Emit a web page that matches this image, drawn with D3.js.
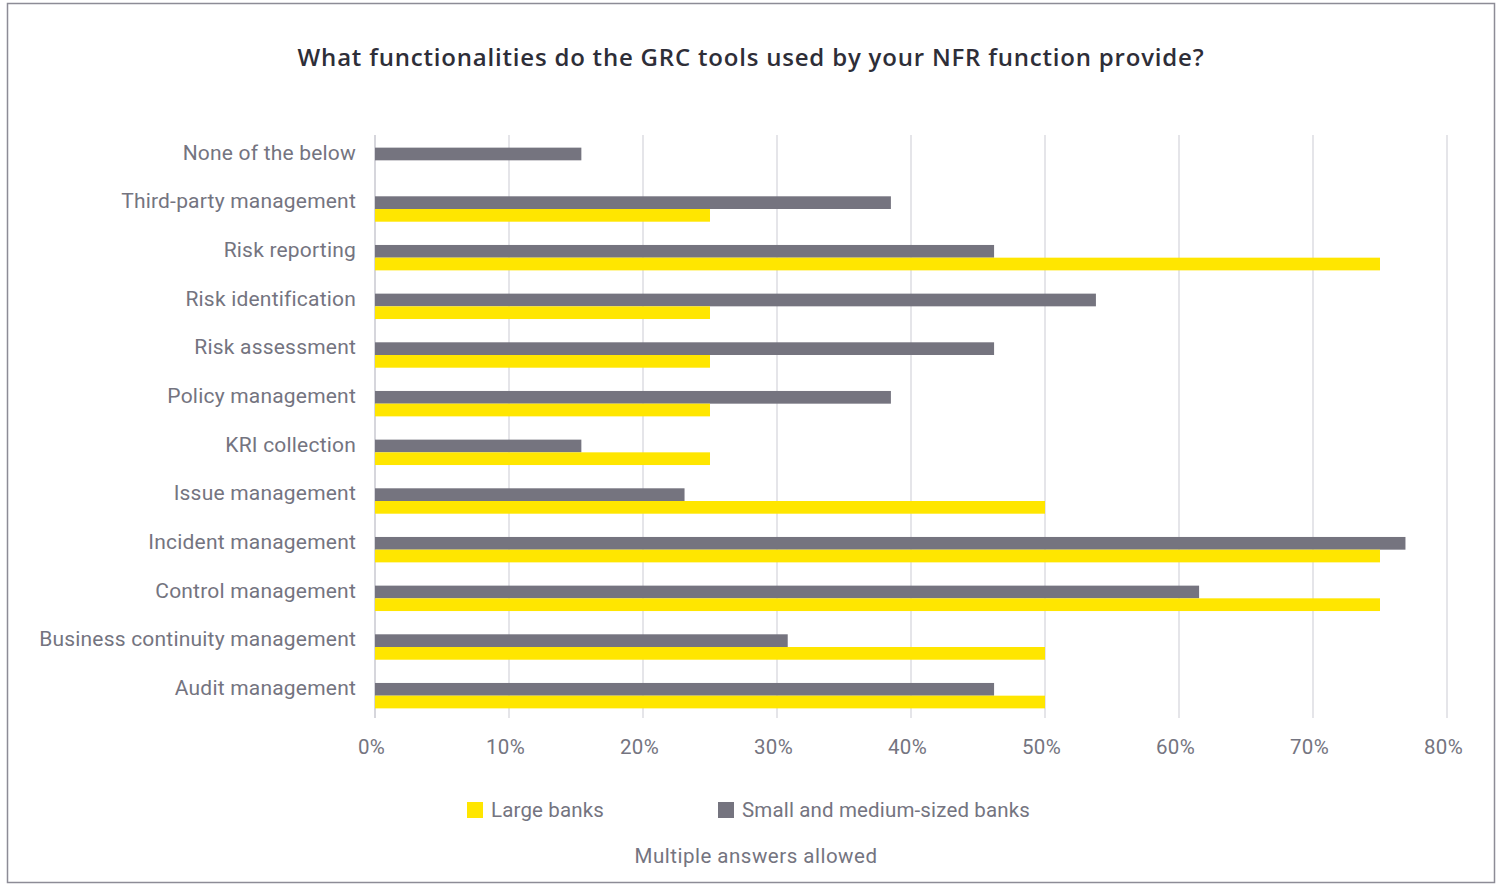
<!DOCTYPE html>
<html>
<head>
<meta charset="utf-8">
<script src="https://cdn.jsdelivr.net/npm/d3@7"></script>
<style>
  html, body { margin: 0; padding: 0; background: #ffffff; }
  svg { display: block; }
</style>
</head>
<body>
<svg id="chart" width="1496" height="884"></svg>
<script>
// Survey answers, share of respondents per bank group (%)
const categories = [
  "None of the below",
  "Third-party management",
  "Risk reporting",
  "Risk identification",
  "Risk assessment",
  "Policy management",
  "KRI collection",
  "Issue management",
  "Incident management",
  "Control management",
  "Business continuity management",
  "Audit management"
];
const smallMediumBanks = [15.4, 38.5, 46.2, 53.8, 46.2, 38.5, 15.4, 23.1, 76.9, 61.5, 30.8, 46.2];
const largeBanks       = [0,    25,   75,   25,   25,   25,   25,   50,   75,   75,   50,   50];
const tickValues = [0, 10, 20, 30, 40, 50, 60, 70, 80];
const seriesNames = ["Large banks", "Small and medium-sized banks"];

const title = "What functionalities do the GRC tools used by your NFR function provide?";
const note = "Multiple answers allowed";

const colors = { large: "#ffe600", small: "#75747f" };
const textGray = "#747480";
const font = "Roboto, 'Liberation Sans', sans-serif";

const svg = d3.select("#chart");

// frame
svg.append("rect")
  .attr("x", 7.5).attr("y", 3.5)
  .attr("width", 1487).attr("height", 879)
  .attr("fill", "#fff")
  .attr("stroke", "#8d8c96").attr("stroke-width", 1.5);

// title
svg.append("text")
  .attr("x", 751).attr("y", 66)
  .attr("text-anchor", "middle")
  .attr("font-family", "'Open Sans', Roboto, sans-serif")
  .attr("font-size", 24)
  .attr("font-weight", 600)
  .attr("letter-spacing", 0.8)
  .attr("fill", "#2e2e38")
  .text(title);

const x = d3.scaleLinear().domain([0, 80]).range([375, 1447]);
const y = d3.scaleBand().domain(categories).range([136, 720]);
const barH = 12.7;

// vertical grid lines
svg.append("g")
  .selectAll("line")
  .data(tickValues)
  .join("line")
  .attr("x1", d => x(d)).attr("x2", d => x(d))
  .attr("y1", 135).attr("y2", 718)
  .attr("stroke", d => d === 0 ? "#c9c8d0" : "#dddde2")
  .attr("stroke-width", 1.5);

// x axis labels
const xAxis = d3.axisBottom(x)
  .tickValues(tickValues)
  .tickFormat(d => d + "%")
  .tickSize(0)
  .tickPadding(0);
const gx = svg.append("g").attr("transform", "translate(-4,739)").call(xAxis);
gx.select(".domain").remove();
gx.selectAll("text")
  .attr("font-family", font)
  .attr("font-size", 20.5)
  .attr("letter-spacing", 0.3)
  .attr("fill", textGray)
  .attr("dy", "0.71em")
  .attr("y", 0);

// bars: small/medium on top, large below
const rows = categories.map((c, i) => ({ c, small: smallMediumBanks[i], large: largeBanks[i] }));
const gBars = svg.append("g");
gBars.selectAll("rect.small")
  .data(rows)
  .join("rect")
  .attr("class", "small")
  .attr("x", x(0))
  .attr("y", d => y(d.c) + y.bandwidth() / 2 - barH)
  .attr("width", d => x(d.small) - x(0))
  .attr("height", barH)
  .attr("fill", colors.small);
gBars.selectAll("rect.large")
  .data(rows)
  .join("rect")
  .attr("class", "large")
  .attr("x", x(0))
  .attr("y", d => y(d.c) + y.bandwidth() / 2)
  .attr("width", d => x(d.large) - x(0))
  .attr("height", barH)
  .attr("fill", colors.large);

// category labels
svg.append("g")
  .selectAll("text")
  .data(categories)
  .join("text")
  .attr("x", 356)
  .attr("y", d => y(d) + y.bandwidth() / 2 - 8)
  .attr("dy", "0.35em")
  .attr("text-anchor", "end")
  .attr("font-family", font)
  .attr("font-size", 21)
  .attr("letter-spacing", 0.2)
  .attr("fill", textGray)
  .text(d => d);

// legend
const legendItems = [
  { name: seriesNames[0], color: colors.large, x: 467 },
  { name: seriesNames[1], color: colors.small, x: 718 }
];
const lg = svg.append("g")
  .selectAll("g")
  .data(legendItems)
  .join("g")
  .attr("transform", d => `translate(${d.x},802)`);
lg.append("rect").attr("width", 16).attr("height", 16).attr("fill", d => d.color);
lg.append("text")
  .attr("x", 24).attr("y", 8).attr("dy", "0.35em")
  .attr("font-family", font)
  .attr("font-size", 20.5)
  .attr("letter-spacing", 0.15)
  .attr("fill", textGray)
  .text(d => d.name);

// footnote
svg.append("text")
  .attr("x", 756).attr("y", 856).attr("dy", "0.35em")
  .attr("text-anchor", "middle")
  .attr("font-family", font)
  .attr("font-size", 20.5)
  .attr("letter-spacing", 0.5)
  .attr("fill", textGray)
  .text(note);
</script>
</body>
</html>
